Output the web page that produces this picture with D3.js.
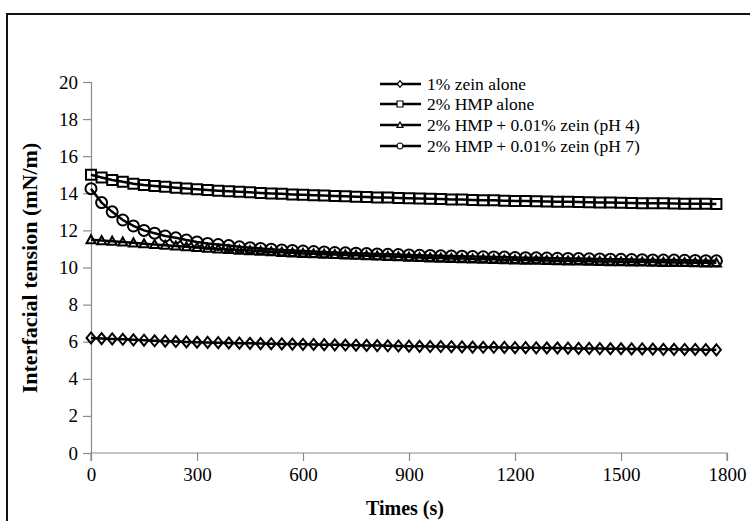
<!DOCTYPE html>
<html lang="en">
	<head>
		<meta charset="UTF-8">
		<title>Interfacial tension</title>
		<script src="https://d3js.org/d3.v7.min.js"></script>
		<style>
			body { margin: 0; background: white; }
			text { font-family: 'Liberation Serif', 'Times New Roman', serif; fill: black; }
		</style>
	</head>
	<body>
		<div id="chart"></div>
		<script>
			// time points (s)
			var times = d3.range(0, 1800, 30);

			var zeinAlone = [6.20, 6.17, 6.15, 6.13, 6.10, 6.08, 6.05, 6.03, 6.01, 5.99,
				5.97, 5.96, 5.95, 5.93, 5.92, 5.91, 5.90, 5.89, 5.88, 5.87,
				5.86, 5.85, 5.84, 5.83, 5.82, 5.81, 5.80, 5.79, 5.78, 5.77,
				5.76, 5.75, 5.74, 5.74, 5.73, 5.72, 5.71, 5.70, 5.70, 5.69,
				5.68, 5.68, 5.67, 5.66, 5.66, 5.65, 5.64, 5.64, 5.63, 5.62,
				5.62, 5.61, 5.61, 5.60, 5.59, 5.59, 5.58, 5.58, 5.57, 5.56];

			var hmpAlone = [15.00, 14.85, 14.72, 14.62, 14.52, 14.45, 14.40, 14.35, 14.30, 14.26,
				14.22, 14.18, 14.14, 14.11, 14.08, 14.05, 14.02, 13.99, 13.97, 13.94,
				13.92, 13.90, 13.88, 13.86, 13.84, 13.82, 13.80, 13.78, 13.77, 13.75,
				13.73, 13.72, 13.70, 13.69, 13.67, 13.66, 13.64, 13.63, 13.62, 13.60,
				13.59, 13.58, 13.57, 13.56, 13.55, 13.54, 13.53, 13.52, 13.51, 13.50,
				13.49, 13.48, 13.47, 13.47, 13.46, 13.45, 13.44, 13.44, 13.43, 13.42];

			var hmpZeinPH4 = [11.50, 11.45, 11.42, 11.38, 11.33, 11.28, 11.24, 11.20, 11.16, 11.12,
				11.08, 11.04, 11.00, 10.97, 10.94, 10.91, 10.88, 10.85, 10.82, 10.79,
				10.76, 10.74, 10.72, 10.70, 10.68, 10.66, 10.64, 10.62, 10.60, 10.58,
				10.56, 10.54, 10.52, 10.51, 10.49, 10.48, 10.46, 10.45, 10.44, 10.42,
				10.41, 10.40, 10.39, 10.38, 10.37, 10.36, 10.35, 10.34, 10.33, 10.32,
				10.31, 10.30, 10.30, 10.29, 10.28, 10.27, 10.27, 10.26, 10.25, 10.25];

			var hmpZeinPH7 = [14.25, 13.50, 13.00, 12.56, 12.24, 12.00, 11.85, 11.70, 11.60, 11.48,
				11.38, 11.30, 11.24, 11.18, 11.12, 11.07, 11.03, 10.99, 10.95, 10.92,
				10.89, 10.86, 10.84, 10.81, 10.79, 10.77, 10.75, 10.73, 10.71, 10.70,
				10.68, 10.66, 10.65, 10.63, 10.62, 10.61, 10.59, 10.58, 10.57, 10.56,
				10.54, 10.53, 10.52, 10.51, 10.50, 10.49, 10.48, 10.47, 10.46, 10.45,
				10.44, 10.43, 10.42, 10.41, 10.40, 10.40, 10.39, 10.38, 10.37, 10.36];

			var seriesNames = ["1% zein alone", "2% HMP alone", "2% HMP + 0.01% zein (pH 4)", "2% HMP + 0.01% zein (pH 7)"];
			var seriesValues = [zeinAlone, hmpAlone, hmpZeinPH4, hmpZeinPH7];
			var seriesMarkers = ["diamond", "square", "triangle", "circle"];

			var xTicks = [0, 300, 600, 900, 1200, 1500, 1800];
			var yTicks = [0, 2, 4, 6, 8, 10, 12, 14, 16, 18, 20];

			var width = 750;
			var height = 521;
			var serif = "'Liberation Serif', 'Times New Roman', serif";

			var svg = d3.select("#chart")
				.append("svg")
				.attr("width", width)
				.attr("height", height);

			// outer frame
			svg.append("rect")
				.attr("x", 7)
				.attr("y", 14)
				.attr("width", 780)
				.attr("height", 560)
				.attr("fill", "none")
				.attr("stroke", "#111")
				.attr("stroke-width", 2);

			var x = d3.scaleLinear().domain([0, 1800]).range([91, 727]);
			var y = d3.scaleLinear().domain([0, 20]).range([453, 82]);

			// axes
			var xAxis = svg.append("g")
				.attr("transform", "translate(0,453)")
				.call(d3.axisBottom(x).tickValues(xTicks).tickFormat(d3.format("d")).tickSize(8).tickPadding(7));
			var yAxis = svg.append("g")
				.attr("transform", "translate(91,0)")
				.call(d3.axisLeft(y).tickValues(yTicks).tickFormat(d3.format("d")).tickSize(8).tickPadding(5));

			[xAxis, yAxis].forEach(function (ax) {
				ax.attr("font-family", serif).attr("font-size", 19);
				ax.select(".domain").attr("stroke", "#8a8a8a").attr("stroke-width", 1.2);
				ax.selectAll(".tick line").attr("stroke", "#8a8a8a").attr("stroke-width", 1.2);
				ax.selectAll(".tick text")
					.attr("fill", "#111")
					.attr("font-family", serif)
					.attr("font-size", 19);
			});
			xAxis.select(".domain").attr("d", "M91,0V8V0H727V8");

			// axis titles
			svg.append("text")
				.attr("x", 405)
				.attr("y", 515)
				.attr("text-anchor", "middle")
				.attr("font-family", serif)
				.attr("font-size", 20)
				.attr("font-weight", "bold")
				.text("Times (s)");

			svg.append("text")
				.attr("transform", "translate(37,268) rotate(-90)")
				.attr("text-anchor", "middle")
				.attr("font-family", serif)
				.attr("font-size", 22)
				.attr("font-weight", "bold")
				.text("Interfacial tension (mN/m)");

			function markerPath(kind, s) {
				if (kind == "diamond") return "M0," + (-s * 0.55) + "L" + (s * 0.45) + ",0L0," + (s * 0.55) + "L" + (-s * 0.45) + ",0Z";
				if (kind == "square") return "M" + (-s / 2) + "," + (-s / 2) + "h" + s + "v" + s + "h" + (-s) + "Z";
				if (kind == "triangle") return "M0," + (-s * 0.5) + "L" + (s * 0.5) + "," + (s * 0.4) + "L" + (-s * 0.5) + "," + (s * 0.4) + "Z";
				var r = s / 2;
				return "M" + (-r) + ",0A" + r + "," + r + " 0 1,0 " + r + ",0A" + r + "," + r + " 0 1,0 " + (-r) + ",0Z";
			}

			var line = d3.line()
				.x(function (d) { return x(d[0]); })
				.y(function (d) { return y(d[1]); });

			var markerSize = { diamond: 10, square: 10, triangle: 9, circle: 11 };

			seriesValues.forEach(function (vals, i) {
				var pts = times.map(function (t, j) { return [t, vals[j]]; });
				var g = svg.append("g");
				g.append("path")
					.datum(pts)
					.attr("d", line)
					.attr("fill", "none")
					.attr("stroke", "black")
					.attr("stroke-width", 2.5);
				g.selectAll("path.mk")
					.data(pts)
					.enter()
					.append("path")
					.attr("class", "mk")
					.attr("transform", function (d) { return "translate(" + x(d[0]) + "," + y(d[1]) + ")"; })
					.attr("d", markerPath(seriesMarkers[i], markerSize[seriesMarkers[i]]))
					.attr("fill", "none")
					.attr("stroke", "black")
					.attr("stroke-width", 2);
			});

			// legend
			var legend = svg.append("g");
			var legendRows = [84, 104, 125, 146];
			seriesNames.forEach(function (name, i) {
				var ly = legendRows[i];
				legend.append("line")
					.attr("x1", 380).attr("x2", 421)
					.attr("y1", ly).attr("y2", ly)
					.attr("stroke", "black")
					.attr("stroke-width", 2.5);
				legend.append("path")
					.attr("transform", "translate(400," + ly + ")")
					.attr("d", markerPath(seriesMarkers[i], 6))
					.attr("fill", "white")
					.attr("stroke", "black")
					.attr("stroke-width", 1.2);
				legend.append("text")
					.attr("x", 427)
					.attr("y", ly)
					.attr("dy", "0.35em")
					.attr("font-family", serif)
					.attr("font-size", 17.5)
					.text(name);
			});
		</script>
	</body>
</html>
